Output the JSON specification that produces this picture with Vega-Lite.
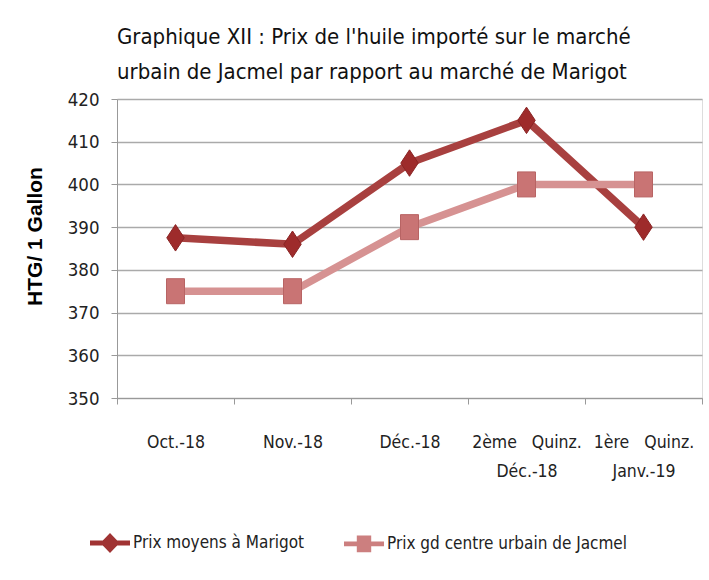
{
  "$schema": "https://vega.github.io/schema/vega-lite/v6.json",
  "width": 585,
  "height": 299,
  "autosize": {"type": "none"},
  "padding": {"left": 117, "top": 99, "right": 7, "bottom": 182},
  "background": "white",
  "title": {
    "text": ["Graphique XII : Prix de l'huile importé sur le marché", "urbain de Jacmel par rapport au marché de Marigot"],
    "anchor": "start",
    "frame": "group",
    "font": "DejaVu Sans Condensed, sans-serif",
    "fontSize": 22,
    "fontWeight": "normal",
    "color": "#111111",
    "lineHeight": 35,
    "offset": 6
  },
  "data": {
    "values": [
      {"periode": "Oct.-18", "serie": "Prix moyens à Marigot", "prix": 387.5},
      {"periode": "Nov.-18", "serie": "Prix moyens à Marigot", "prix": 386},
      {"periode": "Déc.-18", "serie": "Prix moyens à Marigot", "prix": 405},
      {"periode": "2ème Quinz. Déc.-18", "serie": "Prix moyens à Marigot", "prix": 415},
      {"periode": "1ère Quinz. Janv.-19", "serie": "Prix moyens à Marigot", "prix": 390},
      {"periode": "Oct.-18", "serie": "Prix gd centre urbain de Jacmel", "prix": 375},
      {"periode": "Nov.-18", "serie": "Prix gd centre urbain de Jacmel", "prix": 375},
      {"periode": "Déc.-18", "serie": "Prix gd centre urbain de Jacmel", "prix": 390},
      {"periode": "2ème Quinz. Déc.-18", "serie": "Prix gd centre urbain de Jacmel", "prix": 400},
      {"periode": "1ère Quinz. Janv.-19", "serie": "Prix gd centre urbain de Jacmel", "prix": 400}
    ]
  },
  "encoding": {
    "x": {
      "field": "periode",
      "type": "nominal",
      "sort": ["Oct.-18", "Nov.-18", "Déc.-18", "2ème Quinz. Déc.-18", "1ère Quinz. Janv.-19"],
      "axis": {
        "title": null,
        "labelAngle": 0,
        "tickBand": "extent",
        "tickSize": 6,
        "tickColor": "#999999",
        "domainColor": "#999999",
        "domainWidth": 1,
        "grid": false,
        "labelFont": "DejaVu Sans Condensed, sans-serif",
        "labelFontSize": 17.5,
        "labelColor": "#222222",
        "labelPadding": 29,
        "labelLineHeight": 29,
        "labelExpr": "datum.value == '2ème Quinz. Déc.-18' ? ['2ème\u00a0\u00a0 Quinz.', 'Déc.-18'] : datum.value == '1ère Quinz. Janv.-19' ? ['1ère\u00a0\u00a0 Quinz.', 'Janv.-19'] : datum.value"
      }
    },
    "y": {
      "field": "prix",
      "type": "quantitative",
      "scale": {"domain": [350, 420], "nice": false, "zero": false},
      "axis": {
        "values": [350, 360, 370, 380, 390, 400, 410, 420],
        "title": "HTG/ 1 Gallon",
        "titleFont": "Liberation Sans, Arial, sans-serif",
        "titleFontWeight": "bold",
        "titleFontSize": 21,
        "titleColor": "#000000",
        "titlePadding": 22,
        "titleY": 137,
        "labelFont": "DejaVu Sans Condensed, sans-serif",
        "labelFontSize": 18.5,
        "labelColor": "#222222",
        "labelPadding": 12,
        "tickSize": 6,
        "tickColor": "#999999",
        "domainColor": "#999999",
        "grid": true,
        "gridColor": "#AAAAAA",
        "gridWidth": 1.5
      }
    }
  },
  "layer": [
    {
      "mark": {"type": "line", "strokeWidth": 7.5},
      "encoding": {
        "color": {
          "field": "serie",
          "type": "nominal",
          "scale": {"domain": ["Prix moyens à Marigot", "Prix gd centre urbain de Jacmel"], "range": ["#A8403F", "#D69292"]},
          "legend": {
            "title": null,
            "orient": "none",
            "legendX": -27,
            "legendY": 424,
            "direction": "horizontal",
            "columnPadding": 40,
            "symbolSize": 1600,
            "symbolType": "M-1,-0.12H1V0.12H-1Z",
            "labelOffset": 3,
            "labelFont": "DejaVu Sans Condensed, sans-serif",
            "labelFontSize": 17,
            "labelColor": "#222222",
            "labelLimit": 400,
            "encode": {
              "symbols": {
                "update": {
                  "shape": {"signal": "datum.value === 'Prix moyens à Marigot' ? 'M-1,-0.12H-0.36L0,-0.5L0.36,-0.12H1V0.12H0.36L0,0.5L-0.36,0.12H-1Z' : 'M-1,-0.12H-0.36V-0.42H0.36V-0.12H1V0.12H0.36V0.42H-0.36V0.12H-1Z'"},
                  "fill": {"signal": "datum.value === 'Prix moyens à Marigot' ? '#A03333' : '#CC7F7F'"},
                  "strokeWidth": {"value": 0},
                  "opacity": {"value": 1}
                }
              }
            }
          }
        }
      }
    },
    {
      "transform": [{"filter": "datum.serie === 'Prix moyens à Marigot'"}],
      "mark": {"type": "point", "shape": "M0,-1L0.66,0L0,1L-0.66,0Z", "filled": true, "opacity": 1, "size": 700, "fill": "#9E2B2B", "stroke": "#8A2424", "strokeWidth": 1}
    },
    {
      "transform": [{"filter": "datum.serie === 'Prix gd centre urbain de Jacmel'"}],
      "mark": {"type": "point", "shape": "M-0.72,-1H0.72V1H-0.72Z", "filled": true, "opacity": 1, "size": 625, "fill": "#C97474", "stroke": "#B86464", "strokeWidth": 1}
    }
  ]
}
